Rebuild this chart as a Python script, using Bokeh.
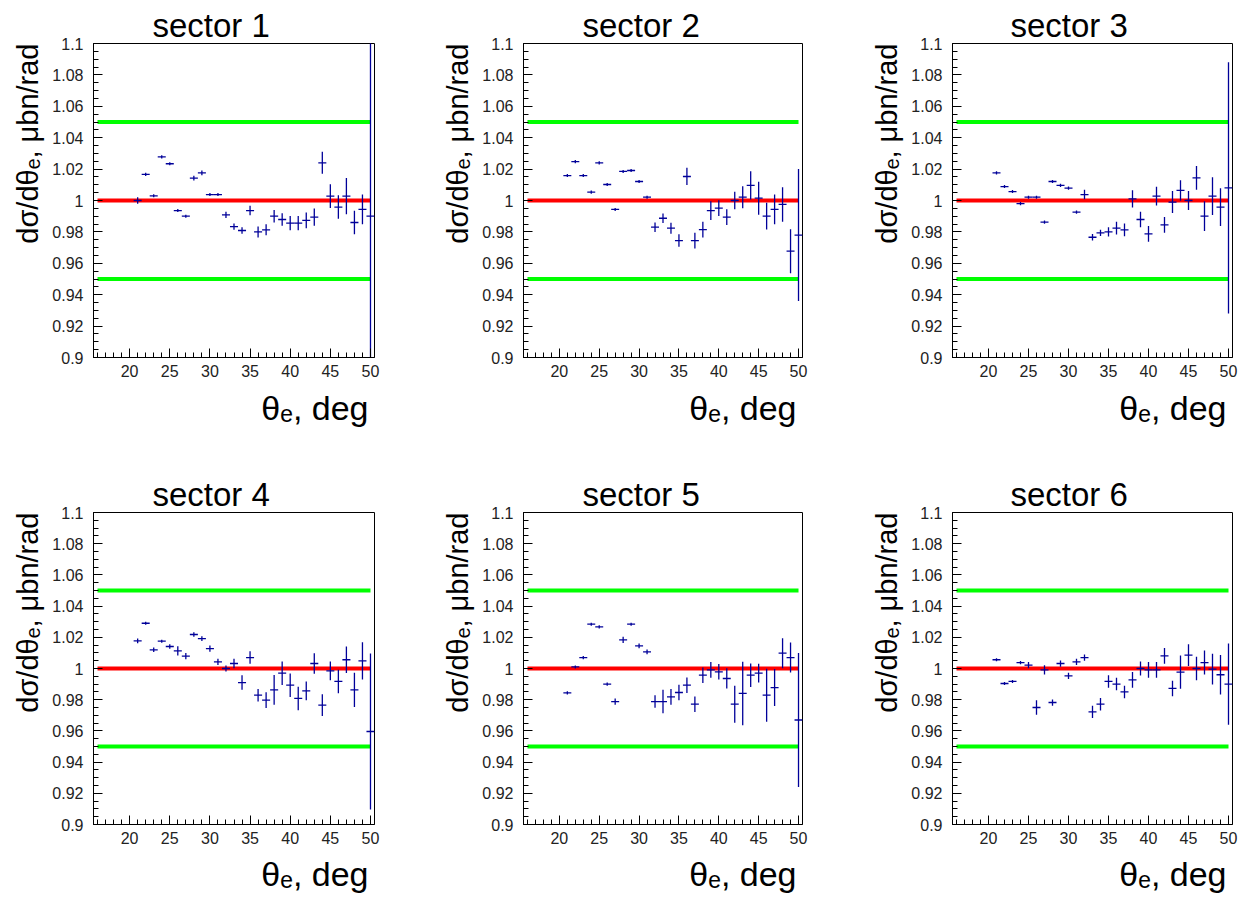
import math
from bokeh.plotting import figure
from bokeh.models import FixedTicker, CustomJSTickFormatter, Title, ColumnDataSource, Range1d
from bokeh.layouts import column, row
from bokeh.embed import file_html
from bokeh.resources import INLINE

# ---------------- data ----------------
theta = [21, 22, 23, 24, 25, 26, 27, 28, 29, 30, 31, 32, 33, 34, 35,
         36, 37, 38, 39, 40, 41, 42, 43, 44, 45, 46, 47, 48, 49, 50]
bin_half_width = 0.5

sector_names = ["sector 1", "sector 2", "sector 3", "sector 4", "sector 5", "sector 6"]

s1_val = [1.000, 1.0166, 1.003, 1.0278, 1.0234, 0.9936, 0.990, 1.0142, 1.0176, 1.0038,
          1.0038, 0.9909, 0.9834, 0.9809, 0.9936, 0.980, 0.9813, 0.990, 0.9879, 0.9856,
          0.9856, 0.9873, 0.9894, 1.024, 1.0028, 0.9958, 1.0028, 0.986, 0.9943, 0.990]
s1_err = [0.002, 0.001, 0.001, 0.001, 0.001, 0.001, 0.001, 0.0015, 0.0015, 0.001,
          0.001, 0.002, 0.002, 0.002, 0.003, 0.0035, 0.0035, 0.004, 0.004, 0.0045,
          0.0045, 0.005, 0.0055, 0.007, 0.0075, 0.0075, 0.0115, 0.0075, 0.0095, 0.13]

s2_val = [1.0159, 1.0248, 1.0159, 1.0053, 1.024, 1.0102, 0.9943, 1.0185, 1.0191, 1.0121,
          1.0021, 0.983, 0.9887, 0.9824, 0.9745, 1.0153, 0.9745, 0.9815, 0.9936, 0.9951,
          0.9894, 1.000, 1.0021, 1.0096, 1.0015, 0.990, 0.9943, 0.9975, 0.9677, 0.978]
s2_err = [0.001, 0.001, 0.001, 0.001, 0.001, 0.001, 0.001, 0.001, 0.001, 0.001,
          0.001, 0.003, 0.003, 0.0035, 0.004, 0.0055, 0.005, 0.005, 0.006, 0.005,
          0.005, 0.0055, 0.007, 0.009, 0.0105, 0.0085, 0.0095, 0.011, 0.014, 0.042]

s3_val = [1.0176, 1.0089, 1.0057, 0.998, 1.0021, 1.0021, 0.9862, 1.0121, 1.0096, 1.0079,
          0.9926, 1.0038, 0.9766, 0.9794, 0.980, 0.9824, 0.9813, 1.001, 0.9879, 0.9788,
          1.0028, 0.9845, 0.999, 1.0064, 1.000, 1.0144, 0.990, 1.0028, 0.9958, 1.008]
s3_err = [0.001, 0.001, 0.001, 0.001, 0.001, 0.001, 0.001, 0.001, 0.001, 0.001,
          0.001, 0.003, 0.002, 0.002, 0.003, 0.004, 0.004, 0.0055, 0.005, 0.005,
          0.006, 0.005, 0.007, 0.0065, 0.006, 0.0075, 0.0095, 0.012, 0.012, 0.08]

s4_val = [1.0177, 1.029, 1.012, 1.0175, 1.0141, 1.0113, 1.0079, 1.0218, 1.0192, 1.0128,
          1.0043, 1.000, 1.0032, 0.991, 1.007, 0.9829, 0.9797, 0.9863, 0.997, 0.9893,
          0.9808, 0.9857, 1.0032, 0.9765, 0.9985, 0.9917, 1.0056, 0.9863, 1.0049, 0.9596]
s4_err = [0.0015, 0.001, 0.0015, 0.001, 0.0015, 0.003, 0.002, 0.0015, 0.0015, 0.002,
          0.002, 0.002, 0.003, 0.0047, 0.004, 0.004, 0.005, 0.0096, 0.0075, 0.0075,
          0.0075, 0.006, 0.0065, 0.007, 0.006, 0.0075, 0.0085, 0.011, 0.012, 0.05]

s5_val = [0.9844, 1.001, 1.007, 1.0284, 1.0267, 0.990, 0.9788, 1.0184, 1.0284, 1.0145,
          1.0107, 0.9788, 0.9788, 0.9818, 0.9846, 0.9893, 0.9771, 0.9957, 0.9991, 0.9979,
          0.9936, 0.9771, 0.984, 0.9957, 0.997, 0.9829, 0.9878, 1.0098, 1.007, 0.967]
s5_err = [0.001, 0.001, 0.001, 0.001, 0.001, 0.001, 0.002, 0.002, 0.001, 0.0015,
          0.0015, 0.004, 0.0075, 0.005, 0.005, 0.005, 0.005, 0.005, 0.005, 0.005,
          0.0065, 0.0118, 0.0203, 0.0075, 0.006, 0.017, 0.0118, 0.0096, 0.0096, 0.043]

s6_val = [1.0056, 0.9904, 0.9917, 1.0038, 1.0021, 0.975, 0.9991, 0.9782, 1.0032, 0.9953,
          1.0043, 1.007, 0.9722, 0.9771, 0.9917, 0.990, 0.985, 0.9927, 1.000, 0.9991,
          0.9991, 1.0081, 0.9872, 0.9977, 1.0086, 1.000, 1.0038, 0.9996, 0.996, 0.990]
s6_err = [0.001, 0.001, 0.001, 0.001, 0.002, 0.0047, 0.003, 0.002, 0.002, 0.002,
          0.002, 0.002, 0.004, 0.004, 0.004, 0.004, 0.004, 0.005, 0.0045, 0.005,
          0.005, 0.005, 0.005, 0.0107, 0.007, 0.0075, 0.0077, 0.0098, 0.0126, 0.026]

values = [s1_val, s2_val, s3_val, s4_val, s5_val, s6_val]
errors = [s1_err, s2_err, s3_err, s4_err, s5_err, s6_err]

ref_levels = [0.95, 1.05, 1.0]
ref_colors = ["#00ff00", "#00ff00", "#ff0000"]
ref_x_start = 16.0
ref_x_end = 50.0

x_major = [20, 25, 30, 35, 40, 45, 50]
x_minor = list(range(16, 51))
y_major = [0.9, 0.92, 0.94, 0.96, 0.98, 1.0, 1.02, 1.04, 1.06, 1.08, 1.1]
y_minor = [round(0.9 + 0.005 * k, 4) for k in range(41)]

y_title = "dσ/dθₑ, μbn/rad"
x_title = "θₑ, deg"

# ---------------- layout geometry ----------------
# (figure width, border left, border right, title offset)
col_geom = [(412, 93, 38, 59), (413, 111, 23, 59), (413, 127, 6, 58)]
# (figure height, border top, border bottom, x-title standoff)
row_geom = [(451, 43, 94, 15), (451, 61, 78, 13)]

FONT = "Liberation Sans"
PT_COLOR = "#000099"

fmt = CustomJSTickFormatter(code="return String(Number(tick.toFixed(3)));")


def make_panel(i):
    r, c = divmod(i, 3)
    w, bl, br, t_off = col_geom[c]
    h, bt, bb, xt_standoff = row_geom[r]
    p = figure(width=w, height=h, x_range=Range1d(15.5, 50.5), y_range=Range1d(0.9, 1.1),
               output_backend="svg", toolbar_location=None, title=None,
               min_border_left=bl, min_border_right=br, min_border_top=bt, min_border_bottom=bb)
    p.background_fill_color = "white"
    p.border_fill_color = "white"
    p.outline_line_color = "black"
    p.outline_line_width = 1
    p.xgrid.visible = False
    p.ygrid.visible = False

    p.xaxis.ticker = FixedTicker(ticks=x_major, minor_ticks=x_minor)
    p.yaxis.ticker = FixedTicker(ticks=y_major, minor_ticks=y_minor)
    p.yaxis.formatter = fmt
    for ax in (p.xaxis[0], p.yaxis[0]):
        ax.major_tick_in = 9
        ax.major_tick_out = 0
        ax.minor_tick_in = 5
        ax.minor_tick_out = 0
        ax.axis_line_color = "black"
        ax.major_tick_line_color = "black"
        ax.minor_tick_line_color = "black"
        ax.major_label_text_font = FONT
        ax.major_label_text_font_size = "16px"
        ax.major_label_text_color = "#222222"
    p.yaxis.major_label_standoff = 10
    p.xaxis.major_label_standoff = 7

    # reference lines
    for lev, col in zip(ref_levels, ref_colors):
        p.segment(x0=[ref_x_start], y0=[lev], x1=[ref_x_end], y1=[lev],
                  line_color=col, line_width=4)

    vals = values[i]
    errs = errors[i]
    src = ColumnDataSource(dict(
        x=theta,
        y=vals,
        xl=[t - bin_half_width for t in theta],
        xr=[t + bin_half_width for t in theta],
        yl=[v - e for v, e in zip(vals, errs)],
        yh=[v + e for v, e in zip(vals, errs)],
    ))
    p.segment(x0="xl", y0="y", x1="xr", y1="y", source=src, line_color=PT_COLOR, line_width=1.3)
    p.segment(x0="x", y0="yl", x1="x", y1="yh", source=src, line_color=PT_COLOR, line_width=1.3)

    # titles
    p.add_layout(Title(text=sector_names[i], align="left", offset=t_off, standoff=0,
                       text_font=FONT, text_font_size="33px", text_font_style="normal",
                       text_color="black"), "above")
    p.add_layout(Title(text=y_title, align="right", offset=0, standoff=12,
                       text_font=FONT, text_font_size="29px", text_font_style="normal",
                       text_color="black"), "left")
    p.add_layout(Title(text=x_title, align="right", offset=6, standoff=xt_standoff,
                       text_font=FONT, text_font_size="34px", text_font_style="normal",
                       text_color="black"), "below")
    return p


panels = [make_panel(i) for i in range(6)]
layout = column(row(*panels[:3]), row(*panels[3:]))

open("out.html", "w").write(file_html(layout, INLINE))
